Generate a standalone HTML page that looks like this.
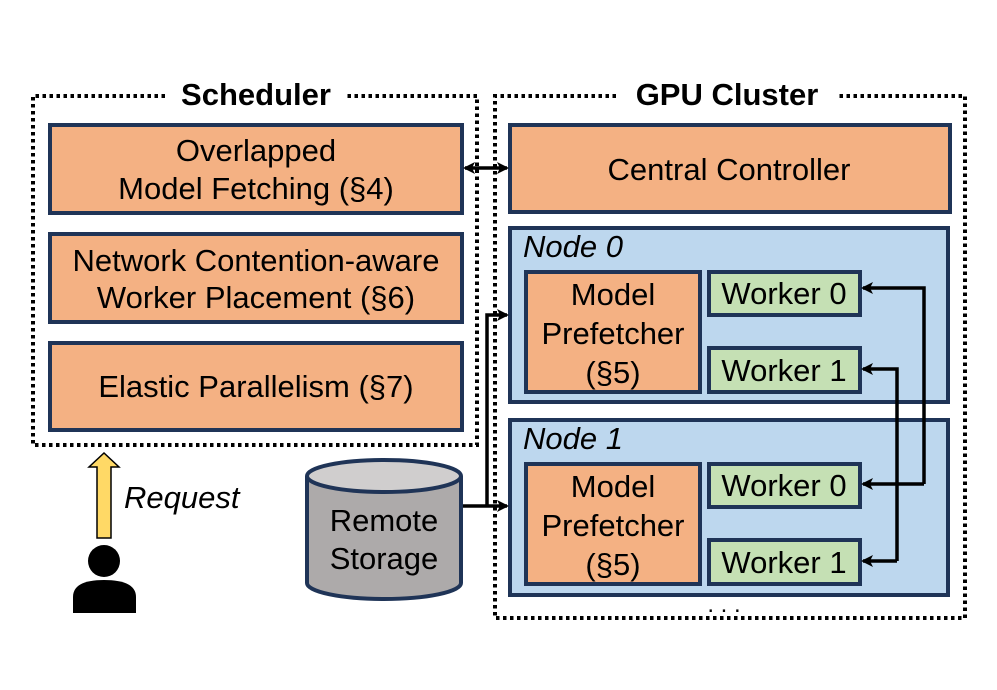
<!DOCTYPE html>
<html><head><meta charset="utf-8"><style>
html,body{margin:0;padding:0;background:#fff}
svg{display:block}
text{font-family:"Liberation Sans",Arial,sans-serif;fill:#000}
</style></head><body>
<svg width="997" height="690" viewBox="0 0 997 690" xmlns="http://www.w3.org/2000/svg">
<defs>
<marker id="ah" markerWidth="12" markerHeight="12" refX="10" refY="6" orient="auto" markerUnits="userSpaceOnUse">
<path d="M0,0 L12,6 L0,12 L3,6 Z" fill="#000"/>
</marker>
<marker id="ahs" markerWidth="12" markerHeight="12" refX="2" refY="6" orient="auto" markerUnits="userSpaceOnUse">
<path d="M12,0 L0,6 L12,12 L9,6 Z" fill="#000"/>
</marker>
</defs>
<!-- Scheduler dotted -->
<g fill="none" stroke="#000" stroke-width="4" stroke-dasharray="3.5,3.5">
<path d="M165,96 H33 V445 H477 V96 H345"/>
<path d="M616,96 H495 V618 H965 V96 H838"/>
</g>
<text x="256" y="105" font-size="31" font-weight="bold" text-anchor="middle">Scheduler</text>
<text x="727" y="105" font-size="31" font-weight="bold" text-anchor="middle">GPU Cluster</text>

<g stroke="#1f3457" stroke-width="4">
<rect x="50" y="125" width="412" height="88" fill="#f4b183"/>
<rect x="50" y="234" width="412" height="88" fill="#f4b183"/>
<rect x="50" y="343" width="412" height="87" fill="#f4b183"/>
<rect x="510" y="125" width="440" height="87" fill="#f4b183"/>
<rect x="510" y="228" width="438" height="174" fill="#bdd7ee"/>
<rect x="510" y="420" width="438" height="175" fill="#bdd7ee"/>
<rect x="526" y="272" width="174" height="120" fill="#f4b183"/>
<rect x="526" y="464" width="174" height="120" fill="#f4b183"/>
<rect x="709" y="272" width="151" height="43" fill="#c5e0b4"/>
<rect x="709" y="348" width="151" height="44" fill="#c5e0b4"/>
<rect x="709" y="464" width="151" height="43" fill="#c5e0b4"/>
<rect x="709" y="540" width="151" height="44" fill="#c5e0b4"/>
</g>
<g font-size="31" text-anchor="middle">
<text x="256" y="161">Overlapped</text>
<text x="256" y="199">Model Fetching (§4)</text>
<text x="256" y="271">Network Contention-aware</text>
<text x="256" y="308">Worker Placement (§6)</text>
<text x="256" y="397">Elastic Parallelism (§7)</text>
<text x="729" y="180">Central Controller</text>
<text x="613" y="305">Model</text>
<text x="613" y="344">Prefetcher</text>
<text x="613" y="383">(§5)</text>
<text x="613" y="497">Model</text>
<text x="613" y="536">Prefetcher</text>
<text x="613" y="575">(§5)</text>
<text x="784" y="304">Worker 0</text>
<text x="784" y="381">Worker 1</text>
<text x="784" y="496">Worker 0</text>
<text x="784" y="573">Worker 1</text>
<text x="724" y="612" font-size="24">. . .</text>
</g>
<g font-size="31" font-style="italic">
<text x="523" y="257">Node 0</text>
<text x="523" y="449">Node 1</text>
<text x="124" y="508">Request</text>
</g>
<!-- arrows -->
<g stroke="#000" stroke-width="3.5" fill="none">
<path d="M465,168 H507" marker-end="url(#ah)" marker-start="url(#ahs)"/>
<path d="M462,506 H507" marker-end="url(#ah)"/>
<path d="M487,506 V315 H507" marker-end="url(#ah)"/>
<path d="M924,484 V288 H863" marker-end="url(#ah)"/>
<path d="M924,484 H863" marker-end="url(#ah)"/>
<path d="M897,561 V369 H863" marker-end="url(#ah)"/>
<path d="M897,561 H863" marker-end="url(#ah)"/>
</g>
<!-- cylinder -->
<path d="M307,476 V583 A77,16 0 0 0 461,583 V476" fill="#adaaaa" stroke="#1f3457" stroke-width="4"/>
<ellipse cx="384" cy="476" rx="77" ry="16" fill="#d0cece" stroke="#1f3457" stroke-width="4"/>
<text x="384" y="531" font-size="31" text-anchor="middle">Remote</text>
<text x="384" y="569" font-size="31" text-anchor="middle">Storage</text>
<!-- request arrow -->
<path d="M97,538 V467 H89 L104,453 L119,467 H111 V538 Z" fill="#ffd966" stroke="#000" stroke-width="1.5"/>
<!-- person -->
<circle cx="104" cy="561" r="16" fill="#000"/>
<path d="M73,613 V597 Q73,580 104,580 Q136,580 136,597 V613 Z" fill="#000"/>
</svg>
</body></html>
